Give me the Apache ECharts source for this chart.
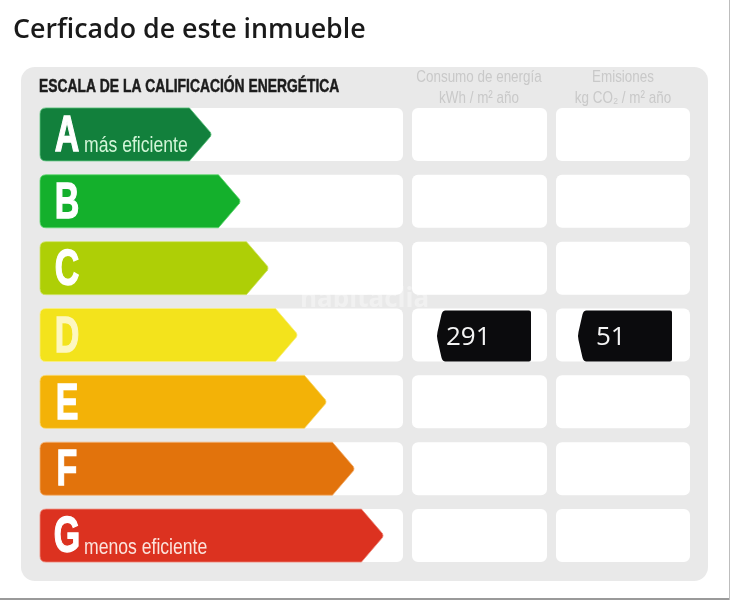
<!DOCTYPE html>
<html><head><meta charset="utf-8">
<style>html,body{margin:0;padding:0;background:#fff;overflow:hidden}#c{width:730px;height:600px;filter:blur(0.45px)}</style>
<script src="https://cdn.jsdelivr.net/npm/echarts@6/dist/echarts.min.js"></script>
</head><body><div id="c"></div>
<script>
const titleText = 'Cerficado de este inmueble';
const scaleTitle = 'ESCALA DE LA CALIFICACIÓN ENERGÉTICA';
const columnHeads = [['Consumo de energía', 'kWh / m² año'], ['Emisiones', 'kg CO₂ / m² año']];
const grades = ['A', 'B', 'C', 'D', 'E', 'F', 'G'];
const gradeNotes = ['más eficiente', '', '', '', '', '', 'menos eficiente'];
const arrowLengths = [171, 200, 228, 257, 286, 314, 343];
const arrowColors = ['#12803c', '#14b02c', '#aecf06', '#f3e31c', '#f3b207', '#e2730c', '#dc3220'];
const arrowEdges = ['#5cc47c', '#5cd66c', '#cfe266', '#f8ee80', '#f8d870', '#f2b070', '#ee8c7c'];
const ratedGrade = 'D';
const consumoValue = 291;
const emisionesValue = 51;

const AX0 = 40, C1 = [40, 403], C2 = [412, 547], C3 = [556, 690];
const sans = '"Liberation Sans",sans-serif';

function rr(x, y, w, h) { return { x, y, width: w, height: h, r: 6 }; }

const chart = echarts.init(document.getElementById('c'), null, { renderer: 'canvas' });
chart.setOption({
  animation: false,
  backgroundColor: '#fff',
  title: { text: titleText, left: 8, top: 12,
    textStyle: { fontFamily: '"Open Sans"', fontSize: 26.8, fontWeight: 600, color: '#1a1a1a' } },
  grid: { left: 0, top: 101, width: 730, height: 468 },
  xAxis: { type: 'value', min: 0, max: 730, show: false },
  yAxis: { type: 'category', data: grades, inverse: true, show: false },
  graphic: [
    { type: 'rect', z: -10, shape: { x: 21, y: 67, width: 687, height: 514, r: 14 }, style: { fill: '#e9e9e9' } },
    { type: 'rect', z: -10, shape: { x: 0, y: 598, width: 730, height: 2 }, style: { fill: '#9a9a9a' } },
    { type: 'rect', z: -10, shape: { x: 729, y: 0, width: 1, height: 600 }, style: { fill: '#bdbdbd' } },
    { type: 'text', z: 5, x: 39, y: 87, scaleX: 0.77, style: { text: scaleTitle, font: 'bold 18px ' + sans, fill: '#1c1c1c', stroke: '#1c1c1c', lineWidth: 0.5, textVerticalAlign: 'middle' } },
    ...columnHeads.flatMap((lines, i) => lines.map((t, j) => ({
      type: 'text', z: 5, x: i ? 623 : 479, y: j ? 98 : 77, scaleX: 0.79,
      style: { text: t, font: '17px ' + sans, fill: '#c9c9c9', textAlign: 'center', textVerticalAlign: 'middle' }
    }))),
    { type: 'text', z: 20, x: 300, y: 300, style: { text: 'habitaclia', font: 'bold 26px "Open Sans"', fill: 'rgba(255,255,255,0.38)', textVerticalAlign: 'middle' } }
  ],
  series: [
    { type: 'custom', z: 1, silent: true, coordinateSystem: 'cartesian2d',
      data: grades.map((g, i) => [arrowLengths[i], i]), encode: { x: 0, y: 1 },
      renderItem(params, api) {
        const cy = api.coord([0, api.value(1)])[1], h = 53, top = cy - h / 2;
        return { type: 'group', children: [C1, C2, C3].map(c => ({
          type: 'rect', shape: rr(c[0], top, c[1] - c[0], h), style: { fill: '#fff' } })) };
      } },
    { type: 'custom', z: 2, silent: true, coordinateSystem: 'cartesian2d',
      data: grades.map((g, i) => [arrowLengths[i], i]), encode: { x: 0, y: 1 },
      renderItem(params, api) {
        const i = params.dataIndex, tip = api.coord([AX0 + api.value(0), api.value(1)]);
        const cy = tip[1], h = 53, t = cy - h / 2, b = cy + h / 2, x0 = AX0, r = 6, sh = tip[0] - 22;
        const d = `M${x0 + r} ${t}L${sh} ${t}L${tip[0] - 1} ${cy - 2}Q${tip[0]} ${cy} ${tip[0] - 1} ${cy + 2}L${sh} ${b}L${x0 + r} ${b}Q${x0} ${b} ${x0} ${b - r}L${x0} ${t + r}Q${x0} ${t} ${x0 + r} ${t}Z`;
        const fg = i === 3 ? '#fdf7c0' : '#fff';
        const kids = [
          { type: 'path', shape: { pathData: d, layout: 'cover', x: x0, y: t, width: tip[0] - x0, height: h },
            style: { fill: arrowColors[i], stroke: arrowEdges[i], lineWidth: 0.8 } },
          { type: 'text', x: 67, y: cy + 3, scaleX: 0.68,
            style: { text: grades[i], font: 'bold 50px ' + sans, fill: fg, stroke: fg, lineWidth: 1.4, textAlign: 'center', textVerticalAlign: 'middle' } }
        ];
        if (gradeNotes[i]) kids.push({ type: 'text', x: 84, y: cy + 12, scaleX: 0.8,
          style: { text: gradeNotes[i], font: '22px ' + sans, fill: i === 0 ? '#d2f5d8' : '#fbe3dc', textVerticalAlign: 'middle' } });
        return { type: 'group', children: kids };
      } },
    { type: 'custom', z: 3, silent: true, coordinateSystem: 'cartesian2d',
      data: [[437, ratedGrade, consumoValue], [578, ratedGrade, emisionesValue]], encode: { x: 0, y: 1 },
      renderItem(params, api) {
        const p = api.coord([api.value(0), api.value(1)]);
        const l = p[0], cy = p[1] + 1, w = 94, h = 51, t = cy - h / 2, b = cy + h / 2;
        const d = `M${l + 8} ${t}L${l + w - 2} ${t}Q${l + w} ${t} ${l + w} ${t + 2}L${l + w} ${b - 2}Q${l + w} ${b} ${l + w - 2} ${b}L${l + 8} ${b}Q${l + 5} ${b} ${l + 4} ${b - 4}L${l} ${cy + 4}Q${l - 1} ${cy} ${l} ${cy - 4}L${l + 4} ${t + 4}Q${l + 5} ${t} ${l + 8} ${t}Z`;
        return { type: 'group', children: [
          { type: 'path', shape: { pathData: d, layout: 'cover', x: l, y: t, width: w, height: h }, style: { fill: '#0b0b0d' } },
          { type: 'text', x: l + (params.dataIndex ? 18 : 9), y: cy + 2, style: { text: String(api.value(2)), font: '500 26px "Open Sans"', fill: '#f4f4f4', textVerticalAlign: 'middle' } }
        ] };
      } }
  ]
});
</script></body></html>
